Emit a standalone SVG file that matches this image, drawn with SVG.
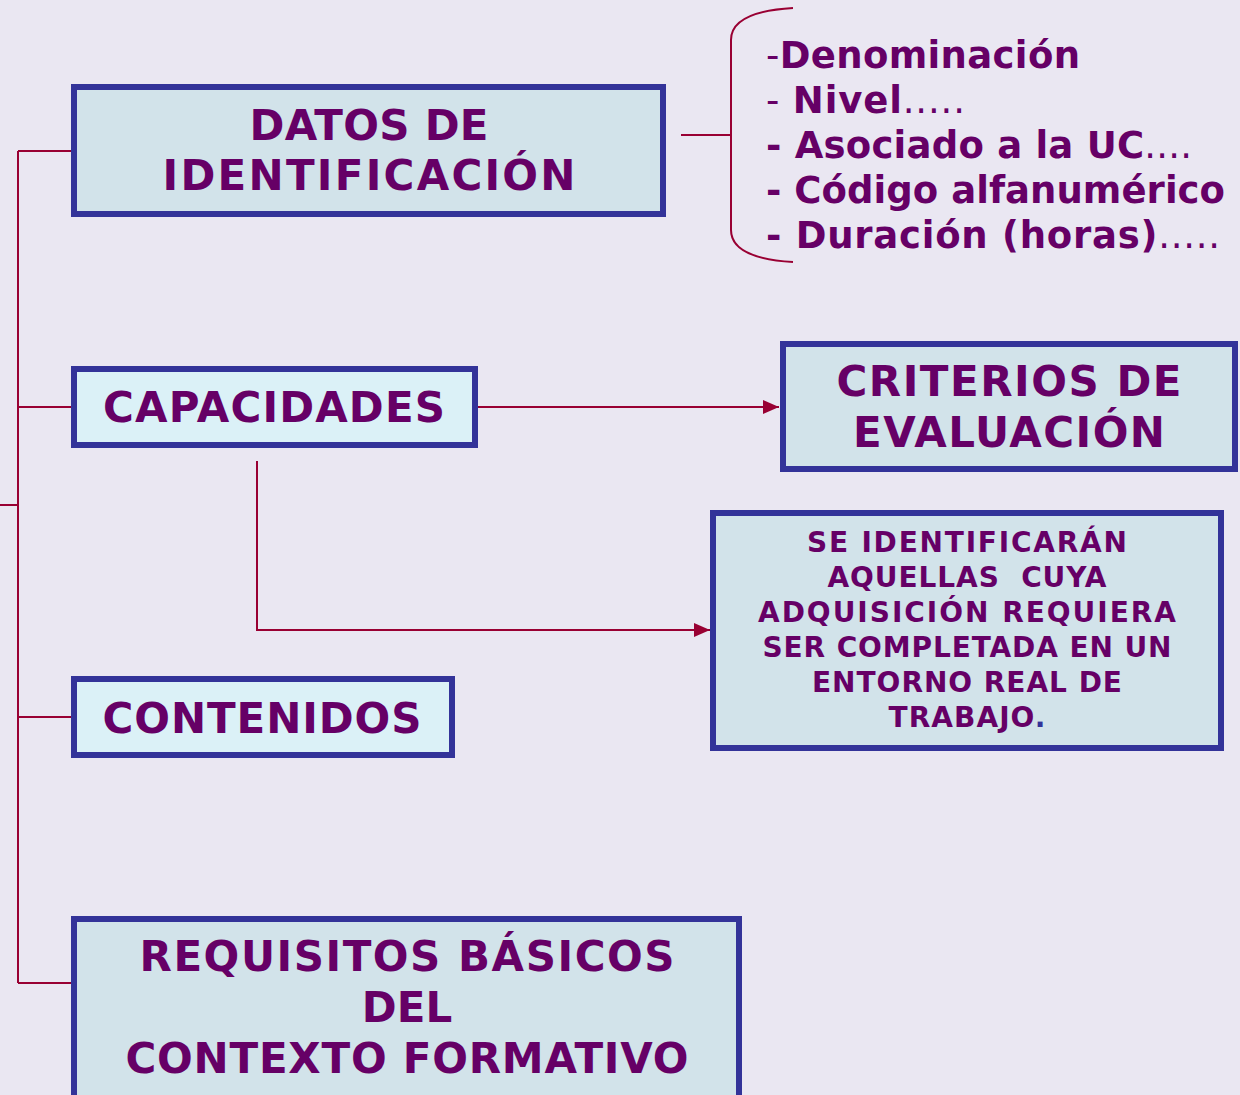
<svg xmlns="http://www.w3.org/2000/svg" width="1240" height="1095" viewBox="0 0 1240 1095">
<defs>
<style>
.box{stroke:#333399;stroke-width:6}
.f1{fill:#d2e3ea}
.f2{fill:#dbf1f7}
.t{font-family:"DejaVu Sans",Verdana,sans-serif;font-weight:bold;fill:#660066;text-anchor:middle}
.l{font-family:"DejaVu Sans",Verdana,sans-serif;font-weight:bold;fill:#660066;font-size:37px}
.n{font-weight:normal}
.c{fill:none;stroke:#990033;stroke-width:2}
</style>
<marker id="ah" markerUnits="userSpaceOnUse" markerWidth="16" markerHeight="14" refX="16" refY="7" orient="auto">
<path d="M0,0 L16,7 L0,14 z" fill="#990033"/>
</marker>
</defs>
<rect width="1240" height="1095" fill="#eae7f2"/>
<g id="connectors">
<path class="c" d="M18,151 V983 M18,151 H72 M18,407 H72 M18,717 H72 M18,983 H72 M0,505 H18"/>
<path class="c" d="M478,407 H779" marker-end="url(#ah)"/>
<path class="c" d="M257,461 V630 H710" marker-end="url(#ah)"/>
<path class="c" d="M681,135 H731"/>
<path class="c" d="M793,8 C760,10 731,18 731,40 V230 C731,252 760,260 793,262"/>
</g>
<g id="datos">
<rect class="box f1" x="74" y="87" width="589" height="127"/>
<text class="t" font-size="42" x="369" y="140" textLength="239" lengthAdjust="spacing">DATOS DE</text>
<text class="t" font-size="42" x="369" y="190" textLength="413" lengthAdjust="spacing">IDENTIFICACIÓN</text>
</g>
<g id="lista">
<text class="l" x="766" y="68" textLength="314" lengthAdjust="spacing"><tspan class="n">-</tspan>Denominación</text>
<text class="l" x="766" y="113" textLength="199" lengthAdjust="spacing"><tspan class="n">- </tspan>Nivel<tspan class="n">.....</tspan></text>
<text class="l" x="766" y="158" textLength="426" lengthAdjust="spacing">- Asociado a la UC<tspan class="n">....</tspan></text>
<text class="l" x="766" y="203" textLength="459" lengthAdjust="spacing">- Código alfanumérico</text>
<text class="l" x="766" y="248" textLength="454" lengthAdjust="spacing">- Duración (horas)<tspan class="n">.....</tspan></text>
</g>
<g id="capacidades">
<rect class="box f2" x="74" y="369" width="401" height="76"/>
<text class="t" font-size="42" x="274" y="422" textLength="342" lengthAdjust="spacing">CAPACIDADES</text>
</g>
<g id="criterios">
<rect class="box f1" x="783" y="344" width="452" height="125"/>
<text class="t" font-size="42" x="1009" y="396" textLength="345" lengthAdjust="spacing">CRITERIOS DE</text>
<text class="t" font-size="42" x="1009" y="447" textLength="312" lengthAdjust="spacing">EVALUACIÓN</text>
</g>
<g id="identificaran">
<rect class="box f1" x="713" y="513" width="508" height="235"/>
<text class="t" font-size="28" x="967" y="552" textLength="320" lengthAdjust="spacing">SE IDENTIFICARÁN</text>
<text class="t" font-size="28" x="967" y="587" textLength="279" lengthAdjust="spacing" xml:space="preserve">AQUELLAS  CUYA</text>
<text class="t" font-size="28" x="967" y="622" textLength="418" lengthAdjust="spacing">ADQUISICIÓN REQUIERA</text>
<text class="t" font-size="28" x="967" y="657" textLength="409" lengthAdjust="spacing">SER COMPLETADA EN UN</text>
<text class="t" font-size="28" x="967" y="692" textLength="310" lengthAdjust="spacing">ENTORNO REAL DE</text>
<text class="t" font-size="28" x="967" y="727" textLength="157" lengthAdjust="spacing">TRABAJO<tspan fill="#333399">.</tspan></text>
</g>
<g id="contenidos">
<rect class="box f2" x="74" y="679" width="378" height="76"/>
<text class="t" font-size="42" x="262" y="733" textLength="319" lengthAdjust="spacing">CONTENIDOS</text>
</g>
<g id="requisitos">
<rect class="box f1" x="74" y="919" width="665" height="200"/>
<text class="t" font-size="42" x="407" y="971" textLength="535" lengthAdjust="spacing">REQUISITOS BÁSICOS</text>
<text class="t" font-size="42" x="407" y="1022">DEL</text>
<text class="t" font-size="42" x="407" y="1073" textLength="563" lengthAdjust="spacing">CONTEXTO FORMATIVO</text>
</g>
</svg>
